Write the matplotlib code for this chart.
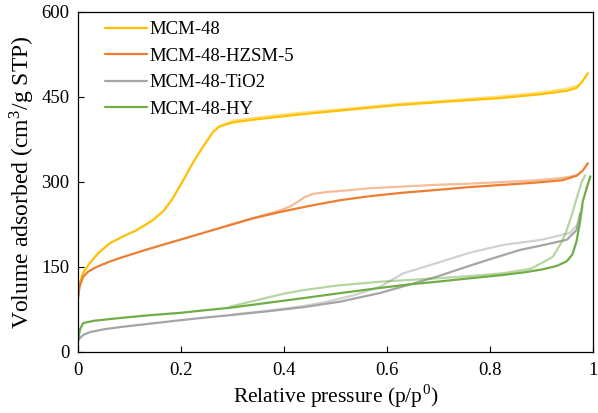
import matplotlib
matplotlib.use("Agg")
import matplotlib.pyplot as plt

plt.rcParams['font.family'] = ['Liberation Serif', 'DejaVu Serif']
plt.rcParams['mathtext.fontset'] = 'stix'

# MCM-48
mcm_ads_x = [0.0, 0.003, 0.01, 0.023, 0.04, 0.062, 0.09, 0.114, 0.146, 0.165, 0.182, 0.205, 0.222, 0.237, 0.25, 0.262, 0.275, 0.30, 0.35, 0.43, 0.52, 0.625, 0.72, 0.82, 0.90, 0.95, 0.968, 0.98, 0.99]
mcm_ads_y = [95, 120, 140, 157, 175, 192, 205, 215, 233, 248, 268, 304, 332, 354, 372, 388, 398, 405, 411, 419, 427, 436, 442, 448, 455, 461, 466, 478, 492]
mcm_des_x = [0.27, 0.30, 0.35, 0.43, 0.52, 0.625, 0.72, 0.82, 0.90, 0.95, 0.97]
mcm_des_y = [396, 408, 414, 422, 429, 438, 444, 451, 458, 465, 470]

# MCM-48-HZSM-5
hz_ads_x = [0.0, 0.003, 0.01, 0.02, 0.036, 0.06, 0.082, 0.12, 0.16, 0.198, 0.25, 0.295, 0.34, 0.392, 0.456, 0.51, 0.567, 0.63, 0.697, 0.76, 0.826, 0.89, 0.94, 0.968, 0.98, 0.99]
hz_ads_y = [95, 115, 133, 142, 150, 159, 166, 177, 188, 198, 212, 224, 236, 247, 259, 268, 275, 281, 286, 291, 295, 299, 303, 311, 320, 333]
hz_des_x = [0.29, 0.34, 0.39, 0.41, 0.425, 0.44, 0.456, 0.48, 0.52, 0.567, 0.63, 0.697, 0.76, 0.826, 0.89, 0.94, 0.97]
hz_des_y = [223, 236, 249, 256, 264, 273, 279, 282, 285, 289, 292, 295, 297, 300, 303, 307, 312]

# MCM-48-TiO2
ti_ads_x = [0.0, 0.005, 0.012, 0.023, 0.05, 0.082, 0.14, 0.198, 0.25, 0.295, 0.37, 0.437, 0.51, 0.586, 0.64, 0.697, 0.75, 0.794, 0.858, 0.91, 0.949, 0.968, 0.975]
ti_ads_y = [20, 26, 31, 35, 40, 44, 50, 56, 61, 65, 72, 79, 89, 104, 118, 133, 149, 162, 180, 190, 198, 215, 245]
ti_des_x = [0.30, 0.37, 0.437, 0.48, 0.535, 0.586, 0.632, 0.697, 0.76, 0.826, 0.90, 0.955, 0.97, 0.98]
ti_des_y = [66, 73, 81, 88, 100, 115, 139, 157, 175, 189, 198, 210, 225, 255]

# MCM-48-HY
hy_ads_x = [0.0, 0.004, 0.01, 0.03, 0.082, 0.14, 0.198, 0.25, 0.295, 0.37, 0.437, 0.51, 0.586, 0.64, 0.697, 0.76, 0.826, 0.87, 0.903, 0.93, 0.949, 0.96, 0.968, 0.975, 0.98, 0.988, 0.995]
hy_ads_y = [20, 40, 51, 55, 60, 65, 69, 74, 78, 87, 95, 104, 113, 119, 124, 130, 136, 141, 146, 152, 160, 172, 195, 230, 265, 290, 310]
hy_des_x = [0.295, 0.35, 0.40, 0.437, 0.50, 0.586, 0.697, 0.76, 0.826, 0.88, 0.922, 0.94, 0.949, 0.96, 0.968, 0.978, 0.985]
hy_des_y = [80, 92, 103, 109, 117, 124, 130, 134, 139, 147, 168, 195, 215, 245, 270, 300, 312]

labels = ['MCM-48', 'MCM-48-HZSM-5', 'MCM-48-TiO2', 'MCM-48-HY']
colors = ['#FFC000', '#ED7D31', '#A5A5A5', '#70AD47']
xticks = [0, 0.2, 0.4, 0.6, 0.8, 1]
xtick_labels = ['0', '0.2', '0.4', '0.6', '0.8', '1']
yticks = [0, 150, 300, 450, 600]

fig = plt.figure(figsize=(5.98, 4.13), dpi=100)
ax = fig.add_axes([0.1304, 0.1477, 0.8612, 0.8233])

series = [(mcm_ads_x, mcm_ads_y, mcm_des_x, mcm_des_y),
          (hz_ads_x, hz_ads_y, hz_des_x, hz_des_y),
          (ti_ads_x, ti_ads_y, ti_des_x, ti_des_y),
          (hy_ads_x, hy_ads_y, hy_des_x, hy_des_y)]

for (ax_, ay_, dx_, dy_), lab, c in zip(series, labels, colors):
    ax.plot(dx_, dy_, color=c, lw=1.6, alpha=0.5, solid_capstyle='round')
    ax.plot(ax_, ay_, color=c, lw=1.6, label=lab, solid_capstyle='round')

ax.set_xlim(0, 1)
ax.set_ylim(0, 600)
ax.set_xticks(xticks)
ax.set_xticklabels(xtick_labels)
ax.set_yticks(yticks)
ax.tick_params(direction='in', labelsize=13.5, length=4, width=0.8, pad=6)
ax.tick_params(axis='x', pad=7)
for s in ax.spines.values():
    s.set_linewidth(0.9)

ax.set_xlabel('Relative pressure (p/p$^\\mathregular{0}$)', fontsize=15.5, labelpad=3)
ax.set_ylabel('Volume adsorbed (cm$^\\mathregular{3}$/g STP)', fontsize=17, labelpad=3)

ax.legend(loc='upper left', frameon=False, fontsize=13.5, handlelength=2.2,
          handletextpad=0.15, labelspacing=0.5, borderaxespad=0.1,
          bbox_to_anchor=(0.035, 1.0))

fig.savefig('out.png', dpi=100)
